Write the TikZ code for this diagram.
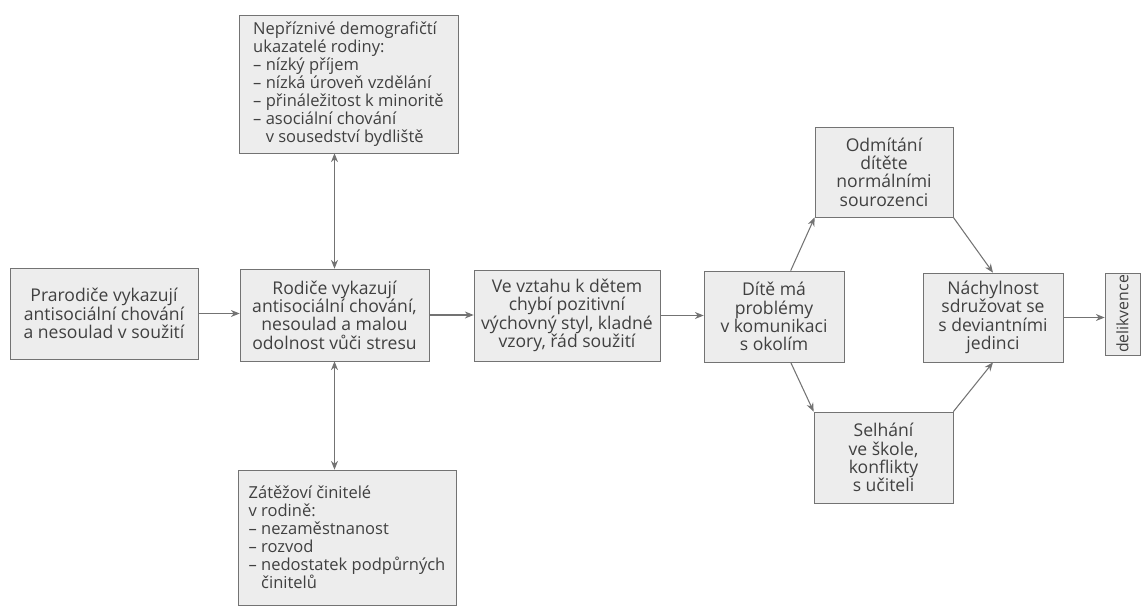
\documentclass[tikz,border=0pt]{standalone}
\usepackage{fontspec}
\setmainfont{Open Sans}
\usetikzlibrary{arrows.meta}
\definecolor{boxfill}{gray}{0.93}
\definecolor{boxline}{gray}{0.45}
\definecolor{boxtext}{gray}{0.25}
\newcommand{\dsh}{--\ }
\newcommand{\ind}{\hphantom{--\ }}

\begin{document}
\begin{tikzpicture}[x=0.02cm,y=-0.02cm,
    box/.style={draw=boxline,fill=boxfill,text=boxtext,align=center,inner sep=1pt,
      font=\fontsize{10}{10.4}\selectfont},
    listbox/.style={box,align=left,font=\fontsize{9.4}{10.2}\selectfont},
    arr/.style={-{Stealth[length=5pt,width=4pt]},boxline,semithick},
    darr/.style={{Stealth[length=5pt,width=4pt]}-{Stealth[length=5pt,width=4pt]},boxline,semithick}]
    \useasboundingbox (0,0) rectangle (1147,610);

    \node[box,minimum width=3.76cm,minimum height=1.82cm] (grand) at (104,313.5)
        {Prarodiče vykazují\\antisociální chování\\a nesoulad v soužití};
    \node[box,minimum width=3.78cm,minimum height=1.84cm] (parents) at (334.5,315)
        {Rodiče vykazují\\antisociální chování,\\nesoulad a malou\\odolnost vůči stresu};
    \node[listbox,minimum width=4.38cm,minimum height=2.76cm] (demog) at (348.5,84)
        {Nepříznivé demografičtí\\ukazatelé rodiny:\\\dsh nízký příjem\\\dsh nízká úroveň vzdělání\\
         \dsh přináležitost k minoritě\\\dsh asociální chování\\\ind v sousedství bydliště};
    \node[listbox,minimum width=4.36cm,minimum height=2.7cm] (stress) at (347,537.5)
        {Zátěžoví činitelé\\v rodině:\\\dsh nezaměstnanost\\\dsh rozvod\\
         \dsh nedostatek podpůrných\\\ind činitelů};
    \node[box,minimum width=3.72cm,minimum height=1.82cm] (upbring) at (567,315.5)
        {Ve vztahu k dětem\\chybí pozitivní\\výchovný styl, kladné\\vzory, řád soužití};
    \node[box,minimum width=2.8cm,minimum height=1.82cm] (child) at (774,316.5)
        {Dítě má\\problémy\\v komunikaci\\s okolím};
    \node[box,minimum width=2.76cm,minimum height=1.8cm] (sibl) at (884,172)
        {Odmítání\\dítěte\\normálními\\sourozenci};
    \node[box,minimum width=2.78cm,minimum height=1.82cm] (school) at (883.5,457.5)
        {Selhání\\ve škole,\\konflikty\\s učiteli};
    \node[box,minimum width=2.8cm,minimum height=1.78cm] (peers) at (993,317.5)
        {Náchylnost\\sdružovat se\\s deviantními\\jedinci};
    \node[box,rotate=90,minimum width=1.64cm,minimum height=0.7cm,
        font=\fontsize{9}{10}\selectfont] (delik) at (1122.5,314) {delikvence};

    \draw[arr] (grand.east) -- (grand.east -| parents.west);
    \draw[arr] (parents.east) -- (parents.east -| upbring.west);
    \draw[arr] (upbring.east) -- (upbring.east -| child.west);
    \draw[arr] (peers.east) -- (peers.east -| delik.north);
    \draw[darr] (parents.north) -- (parents.north |- demog.south);
    \draw[darr] (parents.south) -- (parents.south |- stress.north);

    \draw[arr] (child.70) -- (sibl.south west);
    \draw[arr] (child.-70) -- (school.north west);
    \draw[arr] (sibl.south east) -- (peers.north);
    \draw[arr] (school.north east) -- (peers.south);
\end{tikzpicture}
\end{document}
